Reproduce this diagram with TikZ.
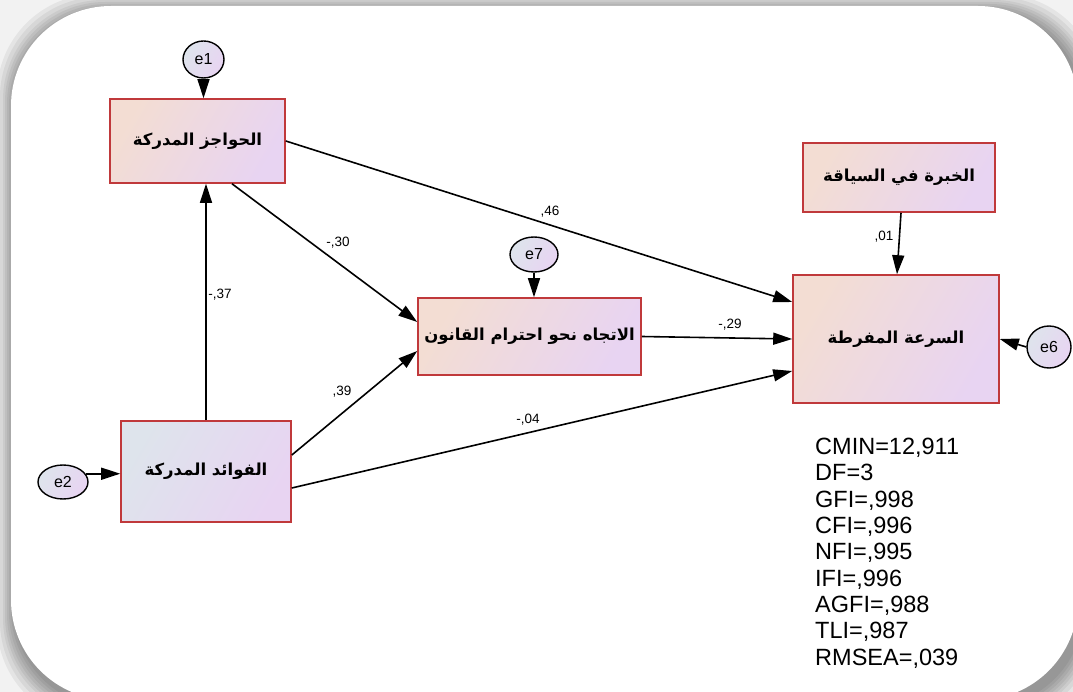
\documentclass[tikz,border=0pt]{standalone}
\usepackage{fontspec}
\setmainfont{Liberation Sans}
\newfontfamily\arabicfont[Script=Arabic]{DejaVu Sans}
\TeXXeTstate=1
\usetikzlibrary{arrows.meta,shapes.geometric}
\definecolor{boxred}{HTML}{C0393B}
\definecolor{peach}{HTML}{F3DDD3}
\definecolor{lav}{HTML}{E8D4F2}
\definecolor{bluegrey}{HTML}{DEE4EC}
\definecolor{bgout}{HTML}{F2F2F2}
\begin{document}
\begin{tikzpicture}[x=1pt,y=-1pt,
  varbox/.style={draw=boxred, line width=1.6pt, left color=peach, right color=lav, shading angle=60,
    inner sep=0pt, font=\arabicfont\bfseries\fontsize{16.5}{20}\selectfont},
  errnode/.style={ellipse, draw=black, line width=1.4pt, left color=bluegrey, right color=lav, shading angle=60,
    inner sep=0pt, font=\fontsize{16}{18}\selectfont},
  path/.style={line width=1.6pt, -{Triangle[length=19pt,width=12pt]}},
  coef/.style={font=\fontsize{13.5}{15}\selectfont, inner sep=0pt},
  stat/.style={font=\fontsize{23.5}{26}\selectfont, inner sep=0pt, anchor=base west}]
\useasboundingbox (0,0) rectangle (1073,692);
\fill[bgout] (0,0) rectangle (1073,692);
\foreach \d in {18,15,12,10,8,6,4,2}{
  \fill[black, opacity=0.055, rounded corners=100pt] (15-\d,12-\d) rectangle (1082+\d,706+\d);
}
\fill[white, rounded corners=100pt] (11,6) rectangle (1078,700);

% nodes
\node[varbox, minimum width=175pt, minimum height=84pt] (bar) at (197.5,141) {\beginR الحواجز المدركة\endR};
\node[varbox, minimum width=192pt, minimum height=69pt] (exp) at (899,177.5) {\beginR الخبرة في السياقة\endR};
\node[varbox, minimum width=206pt, minimum height=128pt] (spd) at (896,339) {\beginR السرعة المفرطة\endR};
\node[varbox, minimum width=223pt, minimum height=77pt] (att) at (529.5,336.5) {\beginR الاتجاه نحو احترام القانون\endR};
\node[varbox, left color=bluegrey, shading angle=60, minimum width=170pt, minimum height=101pt] (ben) at (206,471.5) {\beginR الفوائد المدركة\endR};

\node[errnode, minimum width=41pt, minimum height=37pt] (e1) at (203.5,59.5) {e1};
\node[errnode, minimum width=48pt, minimum height=35pt] (e7) at (534,254.5) {e7};
\node[errnode, minimum width=44pt, minimum height=42pt] (e6) at (1049,347) {e6};
\node[errnode, minimum width=50pt, minimum height=34pt] (e2) at (63,482) {e2};

% connectors
\draw[path] (e1.south) -- (e1.south |- bar.north);
\draw[path] (e7.south) -- (e7.south |- att.north);
\draw[path] (e2.20) -- (e2.20 -| ben.west);
\draw[path] (e6.west) -- (spd.east);
\draw[path] (ben.north) -- (ben.north |- bar.south);
\draw[path] ([xshift=34.5pt]bar.south) -- ([yshift=14.5pt]att.west);
\draw[path] (bar.east) -- ([yshift=37pt]spd.west);
\draw[path] (att.east) -- (spd.west);
\draw[path] ([yshift=16.5pt]ben.east) -- ([yshift=-14.5pt]att.west);
\draw[path] ([yshift=-16.5pt]ben.east) -- ([yshift=-32pt]spd.west);
\draw[path] ([xshift=2pt]exp.south) -- ([xshift=1pt]spd.north);

% coefficients
\node[coef] (c37) at (220,295) {-,37};
\node[coef] (c30) at (338,243) {-,30};
\node[coef] (c46) at (550,212) {,46};
\node[coef] (c39) at (342,392) {,39};
\node[coef] (c04) at (528,420) {-,04};
\node[coef] (c29) at (730,325) {-,29};
\node[coef] (c01) at (884,237) {,01};

% fit statistics
\foreach \t [count=\i from 0] in {{CMIN=12,911}, {DF=3}, {GFI=,998}, {CFI=,996}, {NFI=,995}, {IFI=,996}, {AGFI=,988}, {TLI=,987}, {RMSEA=,039}}{
  \node[stat] (s\i) at (815,454.6+26.3*\i) {\t};
}
\end{tikzpicture}
\end{document}
